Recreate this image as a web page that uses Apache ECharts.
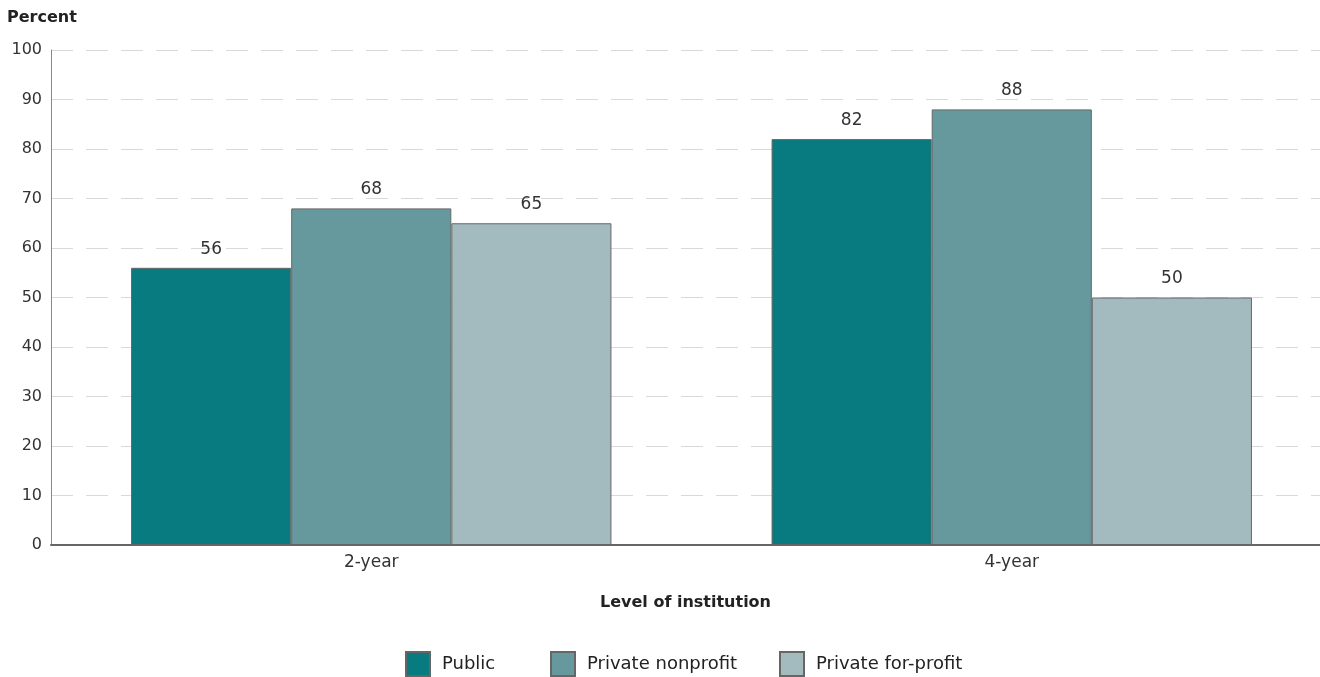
<!DOCTYPE html>
<html><head><meta charset="utf-8">
<script src="https://cdn.jsdelivr.net/npm/echarts@6/dist/echarts.min.js"></script>
<style>html,body{margin:0;padding:0;background:#fff;overflow:hidden}#c{width:1332px;height:677px}</style>
</head><body><div id="c"></div>
<script>
const categories = ["2-year", "4-year"];
const seriesNames = ["Public", "Private nonprofit", "Private for-profit"];
const publicVals = [56, 82];
const nonprofitVals = [68, 88];
const forprofitVals = [65, 50];
const colors = ["#087b80", "#66999e", "#a3bbbf"];
const yTicks = [0, 100, 10];

const FONT = "DejaVu Sans";
const chart = echarts.init(document.getElementById('c'), null, {renderer: 'canvas'});
const vals = [publicVals, nonprofitVals, forprofitVals];
const legendLefts = [405, 550, 779];
chart.setOption({
  animation: false,
  textStyle: {fontFamily: FONT},
  grid: {left: 51, right: 0, top: 50, bottom: 132, containLabel: false},
  legend: seriesNames.map((n, i) => ({
    data: [n], top: 651, left: legendLefts[i], icon: 'rect',
    itemWidth: 24, itemHeight: 24, padding: 0,
    textStyle: {fontSize: 18, color: '#222', fontFamily: FONT, padding: [0,0,0,7]}
  })),
  xAxis: {
    type: 'category', data: categories,
    name: 'Level of institution', nameLocation: 'middle', nameGap: 50,
    nameTextStyle: {fontSize: 16, fontWeight: 'bold', color: '#222', fontFamily: FONT, padding: [0,12,0,0]},
    axisLine: {lineStyle: {color: '#666', width: 2}},
    axisTick: {show: false},
    axisLabel: {fontSize: 17, color: '#333', margin: 9}
  },
  yAxis: {
    type: 'value', min: yTicks[0], max: yTicks[1], interval: yTicks[2],
    name: 'Percent', nameLocation: 'end', nameGap: 24,
    nameTextStyle: {fontSize: 16, fontWeight: 'bold', color: '#222', align: 'left', padding: [0,0,0,-44], fontFamily: FONT},
    axisLine: {show: true, lineStyle: {color: '#888', width: 1}},
    axisTick: {show: false},
    axisLabel: {fontSize: 16, color: '#333', margin: 9},
    splitLine: {lineStyle: {color: '#d9d9d9', width: 1, type: [22, 13]}}
  },
  series: seriesNames.map((n, i) => ({
    name: n, type: 'bar', data: vals[i],
    barGap: '0%', barCategoryGap: '25%',
    itemStyle: {color: colors[i], borderColor: '#666', borderWidth: 1},
    label: {show: true, position: 'top', distance: 10, fontSize: 17, color: '#333', fontFamily: FONT}
  }))
});
</script></body></html>
